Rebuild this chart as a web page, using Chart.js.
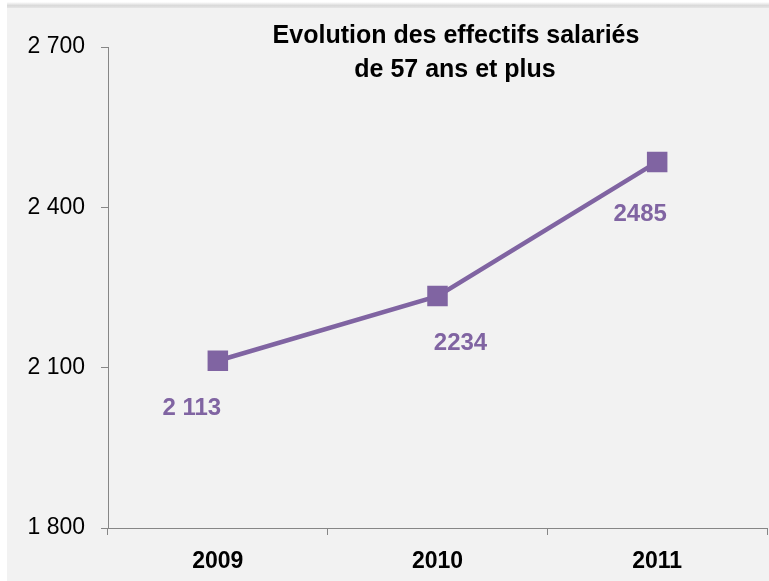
<!DOCTYPE html>
<html>
<head>
<meta charset="utf-8">
<script src="https://cdn.jsdelivr.net/npm/chart.js@4"></script>
<style>
  html, body { margin: 0; padding: 0; background: #ffffff; }
  #wrap { width: 769px; height: 581px; position: relative; }
  canvas { display: block; }
</style>
</head>
<body>
<div id="wrap"><canvas id="c" width="769" height="581"></canvas></div>
<script>
// ---- data ----
const categories = ['2009', '2010', '2011'];
const effectifs = [2113, 2234, 2485];
const valueLabels = ['2 113', '2234', '2485'];
const titleLines = ['Evolution des effectifs salariés', 'de 57 ans et plus'];
const yTicks = [1800, 2100, 2400, 2700];

// ---- style config ----
const PURPLE = '#8064A2';
const labelOffsets = [[-26, 48], [23, 47], [-17, 52]];
const FONT = "'Liberation Sans', Arial, sans-serif";

function fmt(v) {
  const s = String(Math.round(v));
  return s.replace(/\B(?=(\d{3})+(?!\d))/g, ' ');
}

const bgPlugin = {
  id: 'bg',
  beforeDraw(chart) {
    const ctx = chart.ctx;
    ctx.save();
    ctx.fillStyle = '#ffffff';
    ctx.fillRect(0, 0, chart.width, chart.height);
    const g = ctx.createLinearGradient(0, 2, 0, 8);
    g.addColorStop(0, '#ffffff');
    g.addColorStop(0.6, '#d9d9d9');
    g.addColorStop(1, '#e6e6e6');
    ctx.fillStyle = g;
    ctx.fillRect(7, 2, chart.width - 7, 6);
    ctx.fillStyle = '#f2f2f2';
    ctx.fillRect(7, 8, chart.width - 7, chart.height - 8);
    ctx.restore();
  }
};

const overlayPlugin = {
  id: 'overlay',
  afterDatasetsDraw(chart) {
    const ctx = chart.ctx;
    ctx.save();
    // title
    ctx.fillStyle = '#000000';
    ctx.font = 'bold 25px ' + FONT;
    ctx.textAlign = 'center';
    ctx.textBaseline = 'alphabetic';
    ctx.fillText(titleLines[0], 456, 43);
    ctx.fillText(titleLines[1], 455, 77);
    // value labels
    const meta = chart.getDatasetMeta(0);
    ctx.fillStyle = PURPLE;
    ctx.font = 'bold 24px ' + FONT;
    ctx.textBaseline = 'middle';
    meta.data.forEach((pt, i) => {
      const o = labelOffsets[i];
      ctx.fillText(valueLabels[i], pt.x + o[0], pt.y + o[1]);
    });
    ctx.restore();
  }
};

new Chart(document.getElementById('c'), {
  type: 'line',
  data: {
    labels: categories,
    datasets: [{
      data: effectifs,
      borderColor: PURPLE,
      backgroundColor: PURPLE,
      borderWidth: 4.5,
      pointStyle: 'rect',
      pointRadius: 14.5,
      pointHoverRadius: 14.5,
      pointBorderWidth: 0,
      tension: 0,
      fill: false
    }]
  },
  options: {
    responsive: false,
    animation: false,
    devicePixelRatio: 1,
    layout: { autoPadding: false, padding: { left: 0, right: 2, top: 47, bottom: 0 } },
    plugins: {
      legend: { display: false },
      tooltip: { enabled: false },
      title: { display: false }
    },
    scales: {
      x: {
        type: 'category',
        offset: true,
        afterFit(s) { s.height = 53; s.paddingLeft = 0; s.paddingRight = 0; },
        grid: {
          offset: true,
          drawOnChartArea: false,
          drawTicks: true,
          tickLength: 7,
          color: '#868686',
          lineWidth: 1
        },
        border: { display: true, color: '#868686', width: 1 },
        ticks: {
          color: '#000000',
          font: { family: FONT, size: 23, weight: 'bold' },
          padding: 13
        }
      },
      y: {
        min: 1800,
        max: 2700,
        afterFit(s) { s.width = 108; s.paddingTop = 0; s.paddingBottom = 0; },
        afterBuildTicks(s) { s.ticks = yTicks.map(v => ({ value: v })); },
        grid: {
          drawOnChartArea: false,
          drawTicks: true,
          tickLength: 7,
          color: '#868686',
          lineWidth: 1
        },
        border: { display: true, color: '#868686', width: 1 },
        ticks: {
          color: '#000000',
          font: { family: FONT, size: 23 },
          padding: 16,
          callback: v => fmt(v)
        }
      }
    }
  },
  plugins: [bgPlugin, overlayPlugin]
});
</script>
</body>
</html>
